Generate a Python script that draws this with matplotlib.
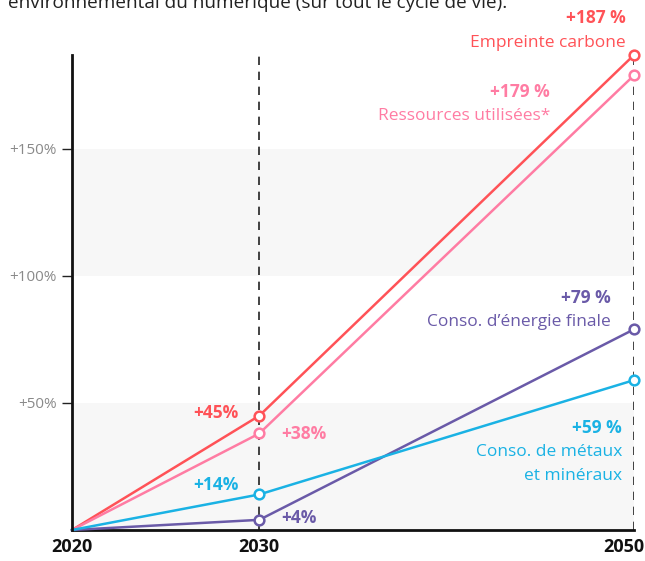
import matplotlib
matplotlib.use("Agg")
import matplotlib.pyplot as plt
import matplotlib.transforms as mtransforms

plt.rcParams['font.family'] = ['Open Sans', 'DejaVu Sans']
BOLD = dict(family='Open Sans', weight=700, stretch='normal')

years = [2020, 2030, 2050]
carbone = [0, 45, 187]
ressources = [0, 38, 179]
energie = [0, 4, 79]
metaux = [0, 14, 59]

yticks = [50, 100, 150]
ytick_labels = ['+50%', '+100%', '+150%']

red = '#ff5257'
pink = '#ff7ca3'
purple = '#6a5aa8'
cyan = '#1ab2e4'

fig = plt.figure(figsize=(6.45, 5.61), dpi=100)
ax = fig.add_axes([72 / 645, 31 / 561, 562 / 645, 475 / 561])

ax.set_xlim(2020, 2050)
ax.set_ylim(0, 187)

# alternating background bands
ax.axhspan(0, 50, color='#f7f7f7', zorder=0, lw=0)
ax.axhspan(100, 150, color='#f7f7f7', zorder=0, lw=0)

for yr in (2030, 2050):
    ax.axvline(yr, color='#222222', lw=1.2, ls=(0, (5, 4)), zorder=1)

series = [(carbone, red), (ressources, pink), (energie, purple), (metaux, cyan)]
for vals, col in series:
    ax.plot(years, vals, color=col, lw=1.8, zorder=3, clip_on=False)
    ax.plot(years[1:], vals[1:], 'o', ms=7, mfc='white', mec=col, mew=1.8,
            zorder=4, clip_on=False)


def label(x, y, text, col, dx, dy, ha, bold=True, size=12.5):
    style = BOLD if bold else {}
    ax.annotate(text, (x, y), xytext=(dx, dy), textcoords='offset pixels',
                ha=ha, va='center', color=col, fontsize=size,
                annotation_clip=False, **style)


# values at 2030
label(2030, carbone[1], '+45%', red, -21, 3, 'right')
label(2030, ressources[1], '+38%', pink, 22, -1, 'left')
label(2030, metaux[1], '+14%', cyan, -21, 9, 'right')
label(2030, energie[1], '+4%', purple, 22, 2, 'left')

# values and names at 2050
label(2050, carbone[2], '+187 %', red, -8, 37, 'right')
label(2050, carbone[2], 'Empreinte carbone', red, -8, 12, 'right', bold=False)
label(2050, ressources[2], '+179 %', pink, -84, -17, 'right')
label(2050, ressources[2], 'Ressources utilisées*', pink, -84, -41, 'right', bold=False)
label(2050, energie[2], '+79 %', purple, -23, 31, 'right')
label(2050, energie[2], 'Conso. d\u2019énergie finale', purple, -23, 7, 'right', bold=False)
label(2050, metaux[2], '+59 %', cyan, -12, -48, 'right')
label(2050, metaux[2], 'Conso. de métaux', cyan, -12, -72, 'right', bold=False)
label(2050, metaux[2], 'et minéraux', cyan, -12, -96, 'right', bold=False)

ax.set_xticks(years)
ax.set_xticklabels([str(y) for y in years], fontsize=13, color='#111111', **BOLD)
ax.tick_params(axis='x', length=0, pad=6)
# last year label sits left of its tick so it stays inside the figure
last = ax.get_xticklabels()[-1]
last.set_transform(last.get_transform() +
                   mtransforms.ScaledTranslation(-0.1, 0, fig.dpi_scale_trans))

ax.set_yticks(yticks)
ax.set_yticklabels(ytick_labels, fontsize=11, color='#8a8a8a')
ax.tick_params(axis='y', length=7, width=1, color='#222222', pad=4)

for side in ('top', 'right'):
    ax.spines[side].set_visible(False)
for side in ('left', 'bottom'):
    ax.spines[side].set_linewidth(2)
    ax.spines[side].set_color('#111111')
ax.spines['left'].set_zorder(5)

fig.text(8 / 645, 1 - 3 / 561,
         'environnemental du numérique (sur tout le cycle de vie).',
         fontsize=13.7, color='#222222', va='center', ha='left')

fig.savefig('out.png', dpi=100)
